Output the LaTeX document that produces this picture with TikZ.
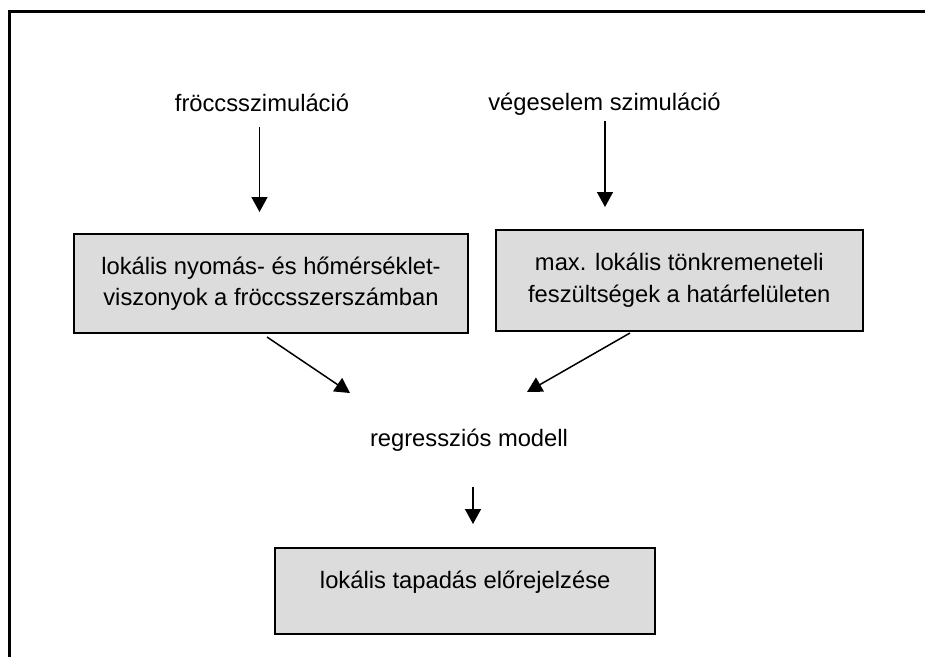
\documentclass[tikz,border=0pt]{standalone}
\usepackage{fontspec}
\setmainfont{Liberation Sans}
\usetikzlibrary{arrows.meta}
\definecolor{boxgray}{HTML}{DCDCDC}
\tikzset{
  box/.style={draw=black, line width=2pt, fill=boxgray, inner sep=0pt, align=center},
  lbl/.style={inner sep=0pt, anchor=base},
  arr/.style={line width=1.5pt, -{Triangle[width=16pt,length=15pt]}},
  frame/.style={line width=2.5pt}
}
\begin{document}
\begin{tikzpicture}[x=1pt,y=-1pt,font=\fontsize{23.75}{31.5}\selectfont]
\useasboundingbox (0,0) rectangle (925,657);
% frame
\coordinate (fr1) at (9.7,657);
\coordinate (fr2) at (9.7,11.5);
\coordinate (fr3) at (925,11.5);
\draw[frame] (fr1) -- (fr2) -- (fr3);
% labels
\node[lbl] (f) at (262,111) {fröccsszimuláció};
\node[lbl] (v) at (604.5,110) {végeselem szimuláció};
\node[lbl] (r) at (469,446.7) {regressziós modell};
% boxes
\node[box, minimum width=393.4, minimum height=98.5] (b1) at (271,283.5)
  {lokális nyomás- és hőmérséklet-\\viszonyok a fröccsszerszámban};
\node[box, minimum width=367, minimum height=100.2] (b2) at (679.3,280.4)
  {max. lokális tönkremeneteli\\feszültségek a határfelületen};
\node[box, minimum width=379.7, minimum height=85.4] (b3) at (465.2,591) {};
\node[lbl] (t3) at (465.2,588) {lokális tapadás előrejelzése};
% arrow endpoints
\coordinate (a1s) at (259.5,127);
\coordinate (a1e) at (259.5,212);
\coordinate (a2s) at (605,121);
\coordinate (a2e) at (605,207);
\coordinate (a3s) at (267,337);
\coordinate (a3e) at (350,393);
\coordinate (a4s) at (630,333);
\coordinate (a4e) at (527,392);
\coordinate (a5s) at (473,487);
\coordinate (a5e) at (473,524);
\draw[arr] (a1s) -- (a1e);
\draw[arr] (a2s) -- (a2e);
\draw[arr] (a3s) -- (a3e);
\draw[arr] (a4s) -- (a4e);
\draw[arr] (a5s) -- (a5e);
\end{tikzpicture}
\end{document}
